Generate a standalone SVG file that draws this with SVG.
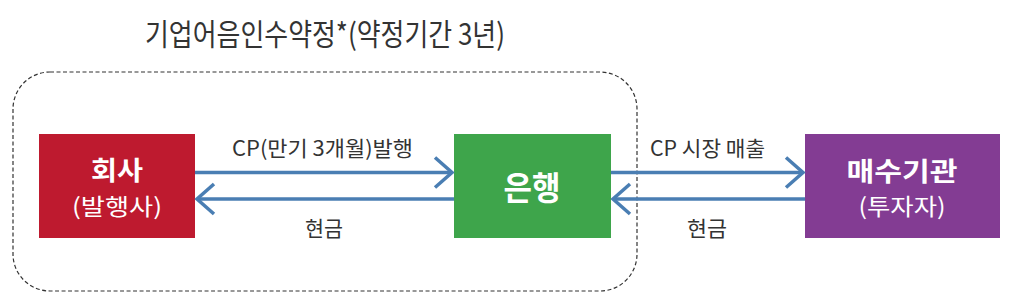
<svg xmlns="http://www.w3.org/2000/svg" width="1014" height="305" viewBox="0 0 1014 305">
<style>
text{font-family:"Noto Sans CJK KR","Noto Sans",sans-serif;}
.lbl{fill:#333333;font-size:21px;}
.title{fill:#333333;font-size:30px;}
.nm{fill:#ffffff;font-size:26px;font-weight:bold;}
.sub{fill:#ffffff;font-size:23px;}
.conn{stroke:#4A7EB3;stroke-width:3.5;fill:none;}
</style>
<defs>
<marker id="chev" markerUnits="userSpaceOnUse" markerWidth="40" markerHeight="40" viewBox="-20 -20 40 40" refX="0" refY="0" orient="auto" overflow="visible">
<path d="M-17,-15 L0,0 L-17,15" fill="none" stroke="#4A7EB3" stroke-width="3.5"/>
</marker>
</defs>
<rect width="1014" height="305" fill="#ffffff"/>
<g id="agreement">
<rect x="13" y="72" width="624" height="219" rx="37" ry="37" fill="none" stroke="#333333" stroke-width="1.2" stroke-dasharray="4 2.5"/>
<text class="title" x="325" y="45" text-anchor="middle" textLength="360" lengthAdjust="spacingAndGlyphs">기업어음인수약정*(약정기간 3년)</text>
</g>
<g id="company">
<rect x="39" y="134" width="156" height="104" fill="#BE1A2F"/>
<text class="nm" x="117" y="180" text-anchor="middle" textLength="52" lengthAdjust="spacingAndGlyphs">회사</text>
<text class="sub" x="117" y="215" text-anchor="middle" textLength="90" lengthAdjust="spacingAndGlyphs">(발행사)</text>
</g>
<g id="bank">
<rect x="454" y="134" width="157" height="104" fill="#3EA54B"/>
<text x="532" y="200" text-anchor="middle" fill="#ffffff" font-size="33" font-weight="bold" textLength="57" lengthAdjust="spacingAndGlyphs">은행</text>
</g>
<g id="investor">
<rect x="805" y="134" width="195" height="104" fill="#833C93"/>
<text class="nm" x="902" y="181" text-anchor="middle" textLength="111" lengthAdjust="spacingAndGlyphs">매수기관</text>
<text class="sub" x="902" y="215" text-anchor="middle" textLength="87" lengthAdjust="spacingAndGlyphs">(투자자)</text>
</g>
<g id="connectors">
<line class="conn" x1="195" y1="172.5" x2="452" y2="172.5" marker-end="url(#chev)"/>
<line class="conn" x1="454" y1="199" x2="197" y2="199" marker-end="url(#chev)"/>
<line class="conn" x1="611" y1="172.5" x2="803" y2="172.5" marker-end="url(#chev)"/>
<line class="conn" x1="805" y1="199" x2="613" y2="199" marker-end="url(#chev)"/>
<text class="lbl" x="322.5" y="156" text-anchor="middle" textLength="181" lengthAdjust="spacingAndGlyphs">CP(만기 3개월)발행</text>
<text class="lbl" x="324" y="236" text-anchor="middle" textLength="38" lengthAdjust="spacingAndGlyphs">현금</text>
<text class="lbl" x="707.5" y="156" text-anchor="middle" textLength="115" lengthAdjust="spacingAndGlyphs">CP 시장 매출</text>
<text class="lbl" x="707" y="236" text-anchor="middle" textLength="40" lengthAdjust="spacingAndGlyphs">현금</text>
</g>
</svg>
